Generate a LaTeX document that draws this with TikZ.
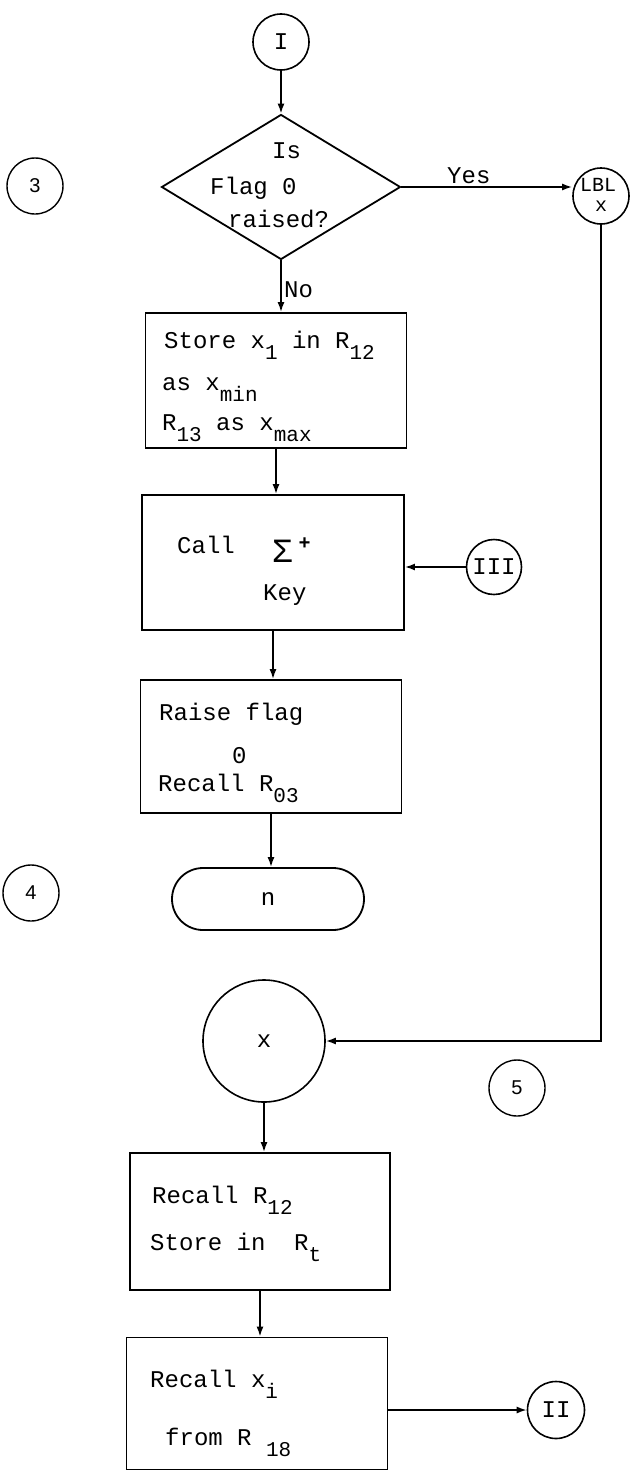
\documentclass[tikz,border=0pt]{standalone}
\usepackage{fontspec}
\setmainfont{Liberation Mono}
\newfontfamily\numfont{Liberation Sans}
\usetikzlibrary{shapes.geometric,arrows.meta}
\newcommand\lowsub[1]{\raisebox{-11pt}{\fontsize{21}{21}\selectfont #1}}
\begin{document}
\begin{tikzpicture}[x=1pt,y=-1pt,
  every node/.style={font=\fontsize{24}{24}\selectfont},
  box/.style={draw, line width=1.8pt, rectangle, inner sep=0pt},
  conn/.style={draw, circle, line width=1.6pt, inner sep=0pt},
  tag/.style={draw, circle, line width=1.4pt, inner sep=0pt, minimum size=56pt, font=\numfont\fontsize{20}{20}\selectfont},
  txt/.style={anchor=base west, inner sep=0pt},
  flow/.style={line width=1.7pt, -{Latex[length=10pt,width=7pt]}}
]
\fill[white] (0,0) rectangle (636,1472);
\useasboundingbox (0,0) rectangle (636,1472);

% top connector and decision
\node[conn, minimum size=56pt] (cI) at (281,42) {I};
\node[draw, diamond, line width=1.8pt, minimum width=239pt, minimum height=145pt, inner sep=0pt] (dec) at (281,187) {};
\node[txt] (t1) at (272,158) {Is};
\node[txt] (t2) at (210,194) {Flag 0};
\node[txt] (t3) at (228,227) {raised?};
\node[conn, minimum size=56pt] (lbl) at (601,196) {};
\node[txt] (lbl1) at (580,191) {\fontsize{20}{20}\selectfont LBL};
\node[txt] (lbl2) at (595,211) {\fontsize{20}{20}\selectfont x};
\node[txt] (yes) at (447,183) {Yes};
\node[txt] (no) at (284,297) {No};
\node[tag] (k3) at (35,186) {3};

% process boxes
\node[box, minimum width=261pt, minimum height=135pt] (b1) at (276,380.5) {};
\node[txt] (b1a) at (164,348) {Store x\lowsub{1} in R\lowsub{12}};
\node[txt] (b1b) at (162,390) {as x\lowsub{min}};
\node[txt] (b1c) at (162,430) {R\lowsub{13} as x\lowsub{max}};

\node[box, minimum width=262pt, minimum height=135pt] (b2) at (273,562.5) {};
\node[txt] (b2a) at (177,553) {Call};
\node[txt] (b2s) at (272,562) {\fontsize{34}{34}\selectfont Σ\hspace{6pt}\raisebox{13pt}{\fontsize{20}{20}\selectfont\bfseries +}};
\node[txt] (b2b) at (263,600) {Key};
\node[conn, minimum size=55pt] (c3) at (494,567) {III};

\node[box, minimum width=261pt, minimum height=133pt] (b3) at (271,746.5) {};
\node[txt] (b3a) at (159,720) {Raise flag};
\node[txt] (b3b) at (232,763) {0};
\node[txt] (b3c) at (158,791) {Recall R\lowsub{03}};

\node[draw, rectangle, rounded corners=31pt, line width=1.8pt, minimum width=192pt, minimum height=62pt, inner sep=0pt] (n) at (268,899) {n};
\node[tag] (k4) at (31,893) {4};

\node[conn, minimum size=122pt] (xc) at (264,1041) {x};
\node[tag] (k5) at (517,1088) {5};

\node[box, minimum width=260pt, minimum height=137pt] (b4) at (260,1221.5) {};
\node[txt] (b4a) at (152,1203) {Recall R\lowsub{12}};
\node[txt] (b4b) at (150,1250) {Store in~~R\lowsub{t}};

\node[box, minimum width=261pt, minimum height=132pt] (b5) at (257,1403.5) {};
\node[txt] (b5a) at (150,1387) {Recall x\lowsub{i}};
\node[txt] (b5b) at (165,1445) {from R~\lowsub{18}};
\node[conn, minimum size=57pt] (c2) at (556,1410) {II};

% connectors
\draw[flow] (cI.south) -- (dec.north);
\draw[flow] (dec.east) -- (dec.east -| lbl.west);
\draw[flow] (dec.south) -- (dec.south |- b1.north);
\draw[flow] (b1.south) -- (b1.south |- b2.north);
\draw[flow] (c3.west) -- (c3.west -| b2.east);
\draw[flow] (b2.south) -- (b2.south |- b3.north);
\draw[flow] (b3.south) -- (b3.south |- n.north);
\draw[flow] (lbl.south) |- (xc.east);
\draw[flow] (xc.south) -- (xc.south |- b4.north);
\draw[flow] (b4.south) -- (b4.south |- b5.north);
\draw[flow] (c2.west -| b5.east) -- (c2.west);
\end{tikzpicture}
\end{document}
